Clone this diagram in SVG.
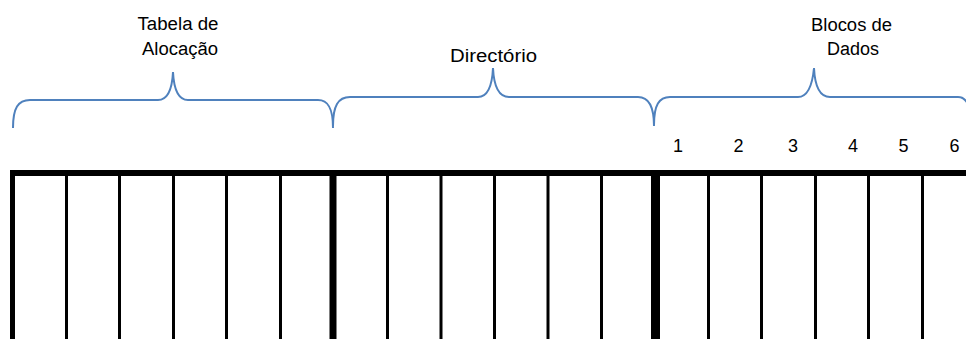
<svg xmlns="http://www.w3.org/2000/svg" width="966" height="339" viewBox="0 0 966 339">
<style>
.lbl{font-family:"Liberation Sans",Arial,sans-serif;font-size:18px;fill:#000;text-anchor:middle}
.brace{fill:none;stroke:#4f81bd;stroke-width:2}
.thin{stroke:#000;stroke-width:3}
</style>
<rect width="966" height="339" fill="#fff"/>
<g id="braces">
<path class="brace" d="M13 128 C13 108 18 100 30 100 H158 C166 100 172 92 173 72 C174 92 180 100 188 100 H318 C328 100 333 108 333 128"/>
<path class="brace" d="M333 126 C333 106 338 97 350 97 H478 C486 97 492 89 493 68 C494 89 500 97 509 97 H638 C648 97 654 106 654 126"/>
<path class="brace" d="M654 125 C654 105 659 97 670 97 H798 C806 97 812 89 814 68 C815 89 821 97 830 97 H958 C964 97 968 102 970 110"/>
</g>
<g id="labels">
<text class="lbl" x="178" y="30" textLength="81" lengthAdjust="spacingAndGlyphs">Tabela de</text>
<text class="lbl" x="180" y="55" textLength="76" lengthAdjust="spacingAndGlyphs">Alocação</text>
<text class="lbl" x="493.5" y="62" textLength="87" lengthAdjust="spacingAndGlyphs">Directório</text>
<text class="lbl" x="851.5" y="31" textLength="81" lengthAdjust="spacingAndGlyphs">Blocos de</text>
<text class="lbl" x="853" y="55" textLength="52" lengthAdjust="spacingAndGlyphs">Dados</text>
<text class="lbl" x="678" y="152">1</text>
<text class="lbl" x="738.5" y="152">2</text>
<text class="lbl" x="793" y="152">3</text>
<text class="lbl" x="853" y="152">4</text>
<text class="lbl" x="903.5" y="152">5</text>
<text class="lbl" x="954.5" y="152">6</text>
</g>
<g id="table">
<rect x="10" y="170" width="956" height="6" fill="#000"/>
<rect x="10" y="170" width="5" height="169" fill="#000"/>
<rect x="329.5" y="170" width="7" height="169" fill="#000"/>
<rect x="651" y="170" width="9" height="169" fill="#000"/>
<g class="thin">
<line x1="66.5" y1="173" x2="66.5" y2="339"/>
<line x1="119.5" y1="173" x2="119.5" y2="339"/>
<line x1="173.5" y1="173" x2="173.5" y2="339"/>
<line x1="226.5" y1="173" x2="226.5" y2="339"/>
<line x1="280.5" y1="173" x2="280.5" y2="339"/>
<line x1="387.5" y1="173" x2="387.5" y2="339"/>
<line x1="441" y1="173" x2="441" y2="339"/>
<line x1="494.5" y1="173" x2="494.5" y2="339"/>
<line x1="548" y1="173" x2="548" y2="339"/>
<line x1="601.5" y1="173" x2="601.5" y2="339"/>
<line x1="708.5" y1="173" x2="708.5" y2="339"/>
<line x1="761.5" y1="173" x2="761.5" y2="339"/>
<line x1="815.5" y1="173" x2="815.5" y2="339"/>
<line x1="868.5" y1="173" x2="868.5" y2="339"/>
<line x1="922.5" y1="173" x2="922.5" y2="339"/>
</g>
</g>
</svg>
